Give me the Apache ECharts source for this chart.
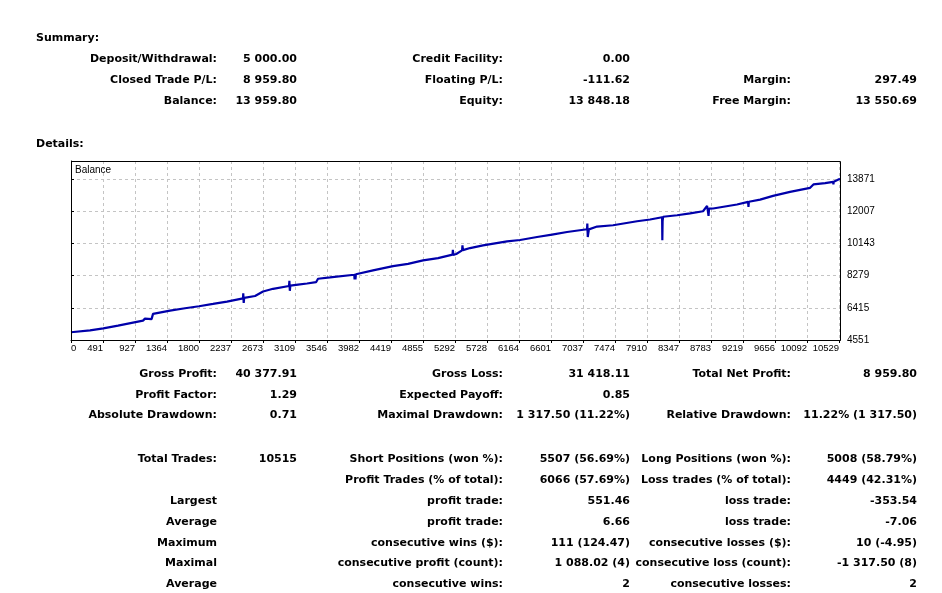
<!DOCTYPE html>
<html><head><meta charset="utf-8">
<script src="https://cdn.jsdelivr.net/npm/echarts@6/dist/echarts.min.js"></script>
<style>html,body{margin:0;padding:0;background:#fff}#c{width:942px;height:593px}</style>
</head><body><div id="c"></div>
<script>
// ---- chart data (balance vs trade number) ----
const tradeNo = [0,260,441,642,983,1010,1030,1100,1120,1352,1557,1748,1939,2130,2349,2352,2358,2365,2513,2622,2759,2977,2982,2988,2995,3100,3223,3346,3373,3537,3868,3872,3878,3884,3890,3898,4124,4397,4602,4807,5012,5210,5214,5220,5260,5340,5345,5352,5449,5626,5954,6132,6364,6568,6773,7046,7050,7056,7062,7072,7183,7401,7729,7907,8071,8074,8078,8085,8276,8453,8630,8685,8695,8705,8712,8767,9094,9245,9250,9256,9409,9586,9818,10092,10137,10297,10406,10410,10415,10500];
const balance = [5000,5110,5225,5382,5673,5790,5700,5760,6063,6255,6390,6505,6640,6778,6960,7260,6700,6990,7100,7359,7516,7680,7980,7400,7700,7760,7824,7900,8097,8173,8330,8060,8380,8060,8360,8330,8580,8830,8960,9162,9290,9493,9780,9480,9530,9743,10030,9760,9877,10033,10266,10342,10516,10650,10807,10964,11295,10516,10700,10960,11121,11196,11429,11530,11662,10330,11450,11690,11778,11890,12010,12318,12050,11737,12160,12167,12400,12551,12260,12560,12680,12900,13133,13365,13563,13640,13714,13560,13720,13890];
const xTickLabels = ['0','491','927','1364','1800','2237','2673','3109','3546','3982','4419','4855','5292','5728','6164','6601','7037','7474','7910','8347','8783','9219','9656','10092','10529'];
const yMin = 4551, yStep = 1864, yMax = 14919;
const xMax = 10500, xStep = 437;

// ---- report text ----
const summaryRows = [
  ['Deposit/Withdrawal:','5 000.00','Credit Facility:','0.00','',''],
  ['Closed Trade P/L:','8 959.80','Floating P/L:','-111.62','Margin:','297.49'],
  ['Balance:','13 959.80','Equity:','13 848.18','Free Margin:','13 550.69']
];
const summaryY = [59,80,101];
const detailRows = [
  ['Gross Profit:','40 377.91','Gross Loss:','31 418.11','Total Net Profit:','8 959.80'],
  ['Profit Factor:','1.29','Expected Payoff:','0.85','',''],
  ['Absolute Drawdown:','0.71','Maximal Drawdown:','1 317.50 (11.22%)','Relative Drawdown:','11.22% (1 317.50)'],
  ['Total Trades:','10515','Short Positions (won %):','5507 (56.69%)','Long Positions (won %):','5008 (58.79%)'],
  ['','','Profit Trades (% of total):','6066 (57.69%)','Loss trades (% of total):','4449 (42.31%)'],
  ['Largest','','profit trade:','551.46','loss trade:','-353.54'],
  ['Average','','profit trade:','6.66','loss trade:','-7.06'],
  ['Maximum','','consecutive wins ($):','111 (124.47)','consecutive losses ($):','10 (-4.95)'],
  ['Maximal','','consecutive profit (count):','1 088.02 (4)','consecutive loss (count):','-1 317.50 (8)'],
  ['Average','','consecutive wins:','2','consecutive losses:','2']
];
const detailY = [374,395,415.5,459,480,501,522,543,563.5,584.5];
const colRight = [217,297,503,630,791,917];

const FONT = 'bold 11px "DejaVu Sans"';
const graphics = [];
function addText(t, x, y, align){
  if(!t) return;
  graphics.push({type:'text', x:x, y:y, silent:true, z:10,
    style:{text:t, font:FONT, fill:'#000', textAlign:align, textVerticalAlign:'middle'}});
}
addText('Summary:', 36, 38, 'left');
addText('Details:', 36, 144, 'left');
summaryRows.forEach((r,i)=>r.forEach((t,j)=>addText(t, colRight[j], summaryY[i], 'right')));
detailRows.forEach((r,i)=>r.forEach((t,j)=>addText(t, colRight[j], detailY[i], 'right')));
graphics.push({type:'text', x:75, y:170, silent:true, z:10,
  style:{text:'Balance', font:'10px "Liberation Sans"', fill:'#000', textAlign:'left', textVerticalAlign:'middle'}});
// solid black frame of the plot area
graphics.push({type:'rect', shape:{x:71.5, y:161.5, width:769, height:179}, silent:true, z:9,
  style:{fill:null, stroke:'#000', lineWidth:1}});

const chart = echarts.init(document.getElementById('c'), null, {renderer:'canvas'});
chart.setOption({
  animation:false,
  backgroundColor:'#fff',
  grid:{left:71, right:102, top:161, bottom:253, show:false},
  xAxis:{type:'value', min:0, max:xMax, interval:xStep,
    axisLine:{show:true, lineStyle:{color:'#000', width:1}},
    axisTick:{show:true, length:3, lineStyle:{color:'#000'}},
    splitLine:{show:true, showMinLine:false, showMaxLine:false, lineStyle:{color:'#c4c4c4', type:[3,3], width:1}},
    axisLabel:{color:'#000', fontFamily:'Liberation Sans', fontSize:9.5, margin:3, align:'right', alignMinLabel:'left', showMaxLabel:false,
      formatter:(v,i)=> (i < xTickLabels.length ? xTickLabels[i] : '')}
  },
  yAxis:{type:'value', position:'right', min:yMin, max:yMax, interval:yStep,
    axisLine:{show:true, lineStyle:{color:'#000', width:1}},
    axisTick:{show:true, length:3, lineStyle:{color:'#000'}},
    splitLine:{show:true, showMinLine:false, showMaxLine:false, lineStyle:{color:'#c4c4c4', type:[3,3], width:1}},
    axisLabel:{color:'#000', fontFamily:'Liberation Sans', fontSize:10, margin:7, showMaxLabel:false,
      formatter:(v)=> String(Math.round(v))}
  },
  series:[{type:'line', data:tradeNo.map((x,i)=>[x,balance[i]]), showSymbol:false,
    lineStyle:{color:'#0000AA', width:2.2}, itemStyle:{color:'#0000AA'}}],
  graphic:graphics
});
</script></body></html>
